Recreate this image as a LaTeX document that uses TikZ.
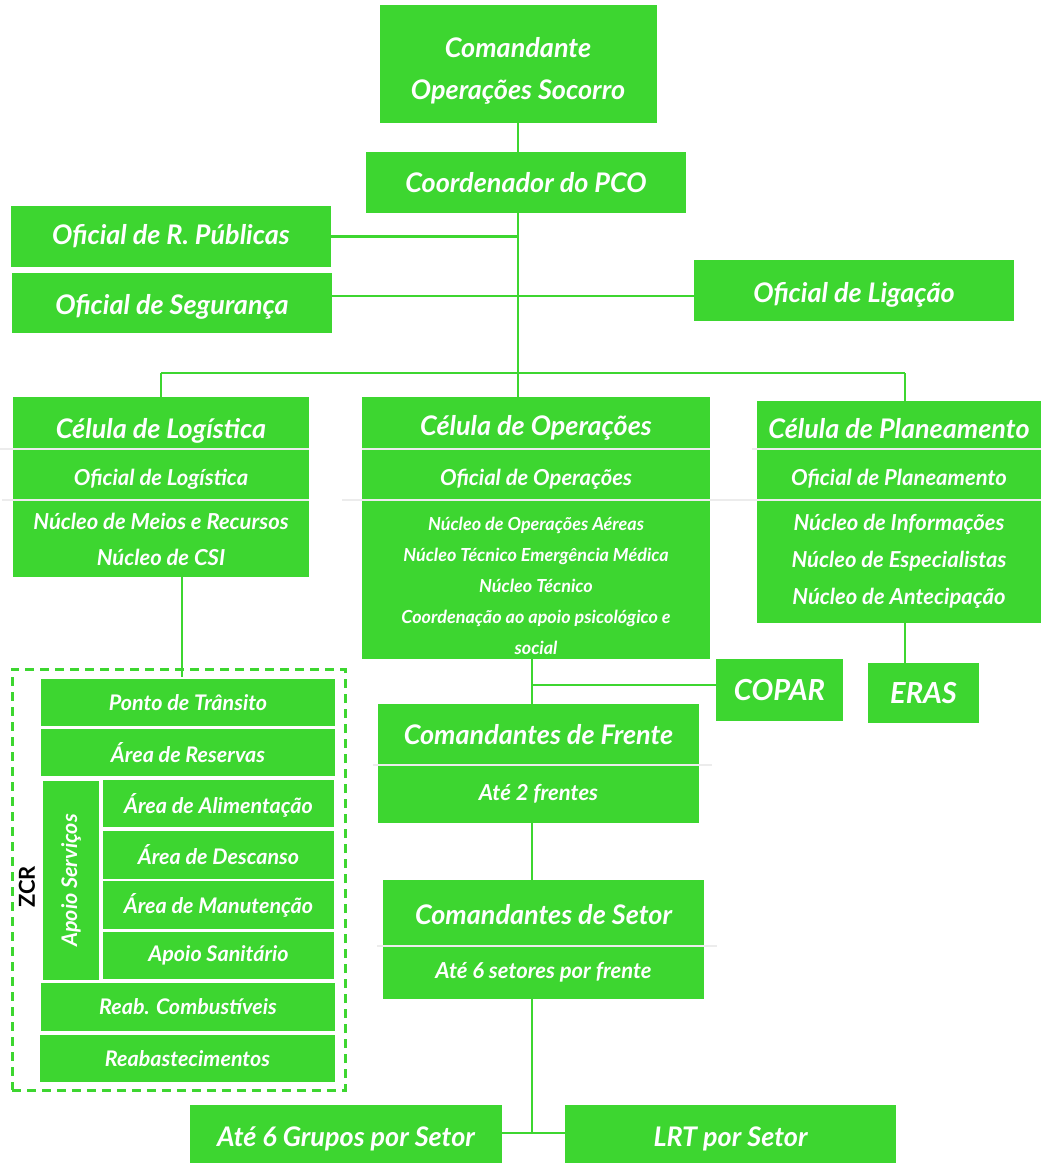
\documentclass[tikz,border=0pt]{standalone}
\usepackage{fontspec}
\setmainfont{Lato}
\usetikzlibrary{positioning}
\definecolor{boxgreen}{RGB}{61,214,48}
\definecolor{sepgray}{RGB}{236,236,236}
% push a label down without changing its box
\newcommand\dn[2]{\raisebox{-#1pt}[\height][\depth]{#2}}
\newcommand\dnlines[2]{\raisebox{-#1pt}[\height][\depth]{\begin{tabular}{@{}c@{}}#2\end{tabular}}}
\tikzset{
  box/.style={fill=boxgreen, text=white, inner sep=0pt, align=center},
  cell/.style={box, draw=white, line width=1.5pt},
  link/.style={draw=boxgreen, line width=2.5pt},
  sepline/.style={draw=sepgray, line width=2.5pt},
  zone/.style={draw=boxgreen, line width=3pt, dash pattern=on 9pt off 6pt, inner sep=0pt},
  fbig/.style={font=\bfseries\itshape\fontsize{27}{32}\selectfont},
  fhead/.style={font=\bfseries\itshape\fontsize{27}{32}\selectfont},
  fmed/.style={font=\bfseries\itshape\fontsize{22}{36}\selectfont},
  fsmall/.style={font=\bfseries\itshape\fontsize{18}{31}\selectfont},
  fzcr/.style={font=\bfseries\itshape\fontsize{21.5}{24}\selectfont}
}
\begin{document}
\begin{tikzpicture}[x=1pt,y=-1pt]
\useasboundingbox (0,0) rectangle (1041,1164);

% command chain
\node[box,font=\bfseries\itshape\fontsize{27}{42}\selectfont,minimum width=277,minimum height=118] (cmd) at (518,64) {\dnlines{6}{Comandante\\Operações Socorro}};
\node[box,fbig,minimum width=320,minimum height=61] (pco) at (526,182.5) {Coordenador do PCO};
\node[box,fbig,minimum width=320,minimum height=61] (rp) at (171,236.5) {Oficial de R. Públicas};
\node[box,fbig,minimum width=320,minimum height=60] (seg) at (172,303) {\dn{4}{Oficial de Segurança}};
\node[box,fbig,minimum width=320,minimum height=61] (lig) at (854,290.5) {\dn{4}{Oficial de Ligação}};

\coordinate (trunk) at (518,373);
\coordinate (busL) at (161,373);
\coordinate (busR) at (905,373);
\coordinate (hub) at (518,296);

\draw[link] (cmd.south) -- (cmd.south |- pco.north);
\draw[link] (cmd.south |- pco.south) -- (trunk);
\draw[link] (rp.east) -- (rp.east -| trunk);
\draw[link] (hub -| seg.east) -- (hub -| lig.west);
\draw[link] (busL) -- (busR);

% cells
\node[box,fhead,minimum width=296,minimum height=52] (lgh) at (161,423) {\dn{8}{Célula de Logística}};
\node[box,fmed,minimum width=296,minimum height=51] (lgo) at (161,474.5) {\dn{5}{Oficial de Logística}};
\node[box,fmed,minimum width=296,minimum height=77] (lgn) at (161,538.5) {\dnlines{2}{Núcleo de Meios e Recursos\\Núcleo de CSI}};

\node[box,fhead,minimum width=348,minimum height=52] (oph) at (536,423) {\dn{5}{Célula de Operações}};
\node[box,fmed,minimum width=348,minimum height=51] (opo) at (536,474.5) {\dn{5}{Oficial de Operações}};
\node[box,fsmall,minimum width=348,minimum height=159] (opn) at (536,579.5) {\dnlines{7}{Núcleo de Operações Aéreas\\Núcleo Técnico Emergência Médica\\Núcleo Técnico\\Coordenação ao apoio psicológico e\\social}};

\node[box,fhead,minimum width=284,minimum height=48] (plh) at (899,425) {\dn{4}{Célula de Planeamento}};
\node[box,fmed,minimum width=284,minimum height=51] (plo) at (899,474.5) {\dn{4}{Oficial de Planeamento}};
\node[box,font=\bfseries\itshape\fontsize{22}{37}\selectfont,minimum width=284,minimum height=123] (pln) at (899,561.5) {Núcleo de Informações\\Núcleo de Especialistas\\Núcleo de Antecipação};

\draw[sepline] ([xshift=-13]lgh.south west) -- (lgh.south east);
\draw[sepline] ([xshift=-11]lgo.south west) -- (lgo.south east);
\draw[sepline] (oph.south west) -- (oph.south east);
\draw[sepline] ([xshift=-20]opo.south west) -- ([xshift=10]opo.south east);
\draw[sepline] ([xshift=-5]plh.south west) -- (plh.south east);
\draw[sepline] ([xshift=-42]plo.south west) -- (plo.south east);

\draw[link] (busL) -- (lgh.north);
\draw[link] (trunk) -- (trunk |- oph.north);
\draw[link] (busR) -- (busR |- plh.north);

% operations line
\node[box,font=\bfseries\itshape\fontsize{29}{32}\selectfont,minimum width=127,minimum height=62] (copar) at (779.5,690) {COPAR};
\node[box,font=\bfseries\itshape\fontsize{29}{32}\selectfont,minimum width=111,minimum height=60] (eras) at (923.5,693) {ERAS};
\draw[link] (busR |- pln.south) -- (busR |- eras.north);

\node[box,fbig,minimum width=321,minimum height=61] (fh) at (538.5,734.5) {Comandantes de Frente};
\node[box,fmed,minimum width=321,minimum height=58] (fs) at (538.5,794) {Até 2 frentes};
\node[box,fbig,minimum width=321,minimum height=66] (sh) at (543.5,913) {\dn{2}{Comandantes de Setor}};
\node[box,fmed,minimum width=321,minimum height=53] (ss) at (543.5,972.5) {Até 6 setores por frente};
\draw[sepline] ([xshift=-5]fh.south west) -- ([xshift=13]fh.south east);
\draw[sepline] ([xshift=-6]sh.south west) -- ([xshift=13]sh.south east);

\node[box,fbig,minimum width=312,minimum height=58] (grp) at (346,1134) {\dn{5}{Até 6 Grupos por Setor}};
\node[box,fbig,minimum width=331,minimum height=58] (lrt) at (730.5,1134) {\dn{5}{LRT por Setor}};

\coordinate (spine) at (532,685);
\coordinate (fork) at (532,1133);
\draw[link] (spine |- opn.south) -- (spine |- fh.north);
\draw[link] (spine) -- (spine -| copar.west);
\draw[link] (spine |- fs.south) -- (spine |- sh.north);
\draw[link] (spine |- ss.south) -- (fork);
\draw[link] (fork -| grp.east) -- (fork -| lrt.west);

% ZCR
\node[zone,minimum width=333,minimum height=421] (zcr) at (178.5,879.5) {};
\node[rotate=90,font=\bfseries\fontsize{22}{24}\selectfont] (zcrlbl) at (27,887) {ZCR};
\node[cell,fzcr,minimum width=296,minimum height=49] (pt) at (188,702.5) {Ponto de Trânsito};
\node[cell,fzcr,minimum width=296,minimum height=49] (res) at (188,752.5) {Área de Reservas};
\node[cell,rotate=90,font=\bfseries\itshape\fontsize{21.5}{24}\selectfont,minimum width=201,minimum height=58] (aps) at (71,880.5) {Apoio Serviços};
\node[cell,fzcr,minimum width=233,minimum height=49] (ali) at (218.5,803.5) {\dn{2}{Área de Alimentação}};
\node[cell,fzcr,minimum width=233,minimum height=49] (des) at (218.5,855) {Área de Descanso};
\node[cell,fzcr,minimum width=233,minimum height=49] (man) at (218.5,905) {Área de Manutenção};
\node[cell,fzcr,minimum width=233,minimum height=49] (san) at (218.5,955.5) {Apoio Sanitário};
\node[cell,fzcr,minimum width=296,minimum height=49] (rc) at (188,1007) {Reab. Combustíveis};
\node[cell,fzcr,minimum width=296,minimum height=49] (rab) at (187.5,1058.5) {Reabastecimentos};
\draw[link] ([xshift=21]lgn.south) -- ([xshift=21]lgn.south |- pt.north);
\end{tikzpicture}
\end{document}
